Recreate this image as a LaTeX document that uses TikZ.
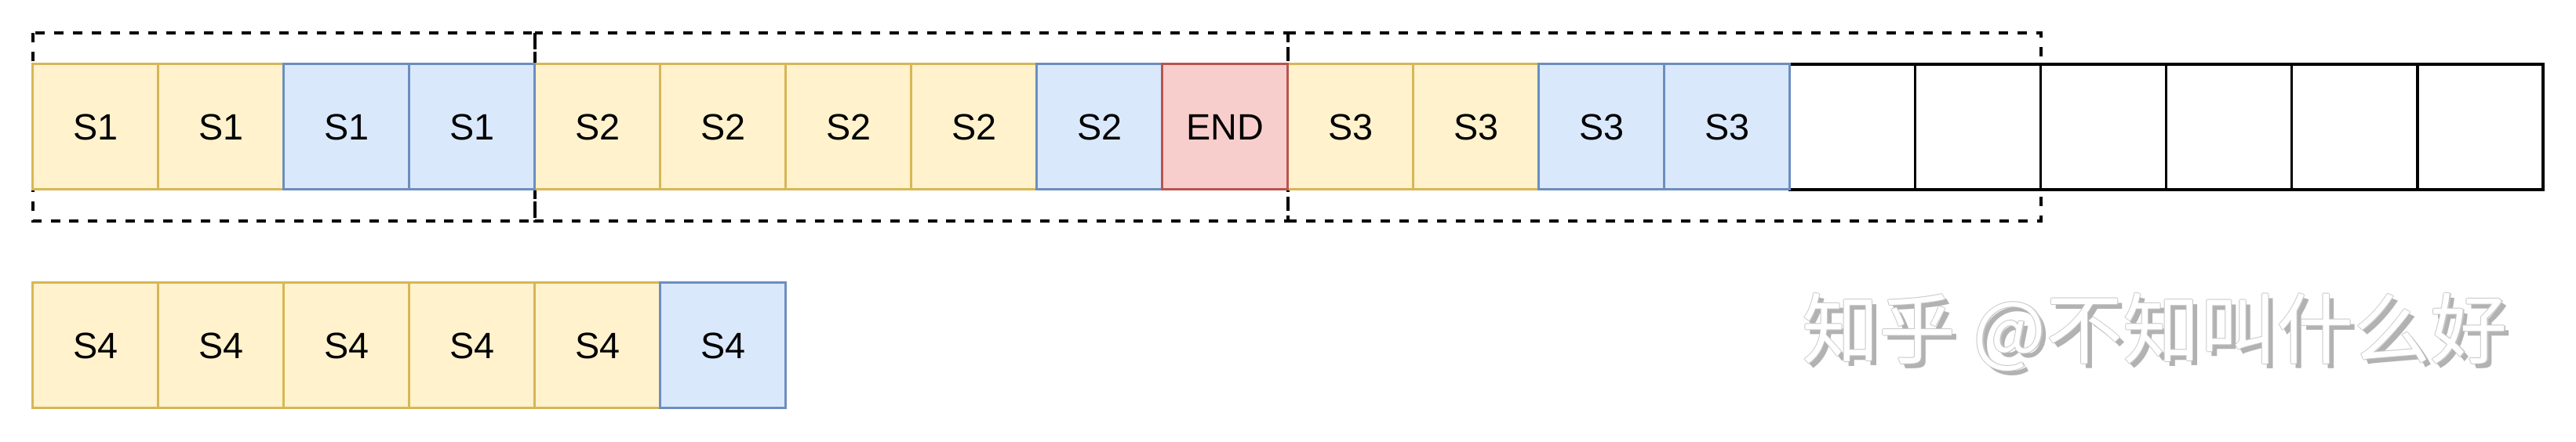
\documentclass[tikz,border=0pt]{standalone}
\usepackage{fontspec}
\setmainfont{Liberation Sans}
\newfontfamily\cjk{Noto Sans CJK SC}
\usepackage{tikz}
\usetikzlibrary{backgrounds}
\definecolor{yfill}{HTML}{FFF2CC}
\definecolor{yline}{HTML}{D6B656}
\definecolor{bfill}{HTML}{DAE8FC}
\definecolor{bline}{HTML}{6C8EBF}
\definecolor{rfill}{HTML}{F8CECC}
\definecolor{rline}{HTML}{B85450}

\begin{document}
\begin{tikzpicture}[
  cell/.style={rectangle,minimum width=1.6cm,minimum height=1.6cm,inner sep=0pt,outer sep=0pt,
    line width=0.85pt,font=\fontsize{13.3}{16}\selectfont},
  cellE/.style={cell,draw=black,fill=white,line width=1pt},
  cellY/.style={cell,draw=yline,fill=yfill},
  cellB/.style={cell,draw=bline,fill=bfill},
  cellR/.style={cell,draw=rline,fill=rfill},
  grp/.style={draw=black,line width=1.15pt,dash pattern=on 3.4pt off 3.4pt},
  wmtext/.style={inner sep=0pt,anchor=west,font=\cjk\fontsize{27.9}{30}\selectfont}]
\useasboundingbox (0,0) rectangle (32.84,5.64);
% top row
\foreach \i in {15,...,20}
  \node[cellE] (c\i) at ({0.417+(\i-0.5)*1.6},4.02) {};
\foreach \i/\t in {1/S1,2/S1,5/S2,6/S2,7/S2,8/S2,11/S3,12/S3}
  \node[cellY] (c\i) at ({0.417+(\i-0.5)*1.6},4.02) {\t};
\foreach \i/\t in {3/S1,4/S1,9/S2,13/S3,14/S3}
  \node[cellB] (c\i) at ({0.417+(\i-0.5)*1.6},4.02) {\t};
\node[cellR] (c10) at ({0.417+9.5*1.6},4.02) {END};
% bottom row
\foreach \i in {1,...,5}
  \node[cellY] (d\i) at ({0.417+(\i-0.5)*1.6},1.23) {S4};
\node[cellB] (d6) at ({0.417+5.5*1.6},1.23) {S4};
% dashed groups
\begin{scope}[on background layer]
\draw[grp] ([yshift=4mm]c1.north west) rectangle ([yshift=-4mm]c4.south east);
\draw[grp] ([yshift=4mm]c5.north west) rectangle ([yshift=-4mm]c10.south east);
\draw[grp] ([yshift=4mm]c11.north west) rectangle ([yshift=-4mm]c16.south east);
\end{scope}
% watermark
\node[wmtext,text=black!30] (wms) at (23.03,1.34) {知乎 @不知叫什么好};
\foreach \dx/\dy [count=\k] in {0.012/0,-0.012/0,0/0.012,0/-0.012}
  \node[wmtext,text=black!22] (wmo\k) at (22.97+\dx,1.40+\dy) {知乎 @不知叫什么好};
\node[wmtext,text=white] (wm) at (22.97,1.40) {知乎 @不知叫什么好};
\end{tikzpicture}
\end{document}
